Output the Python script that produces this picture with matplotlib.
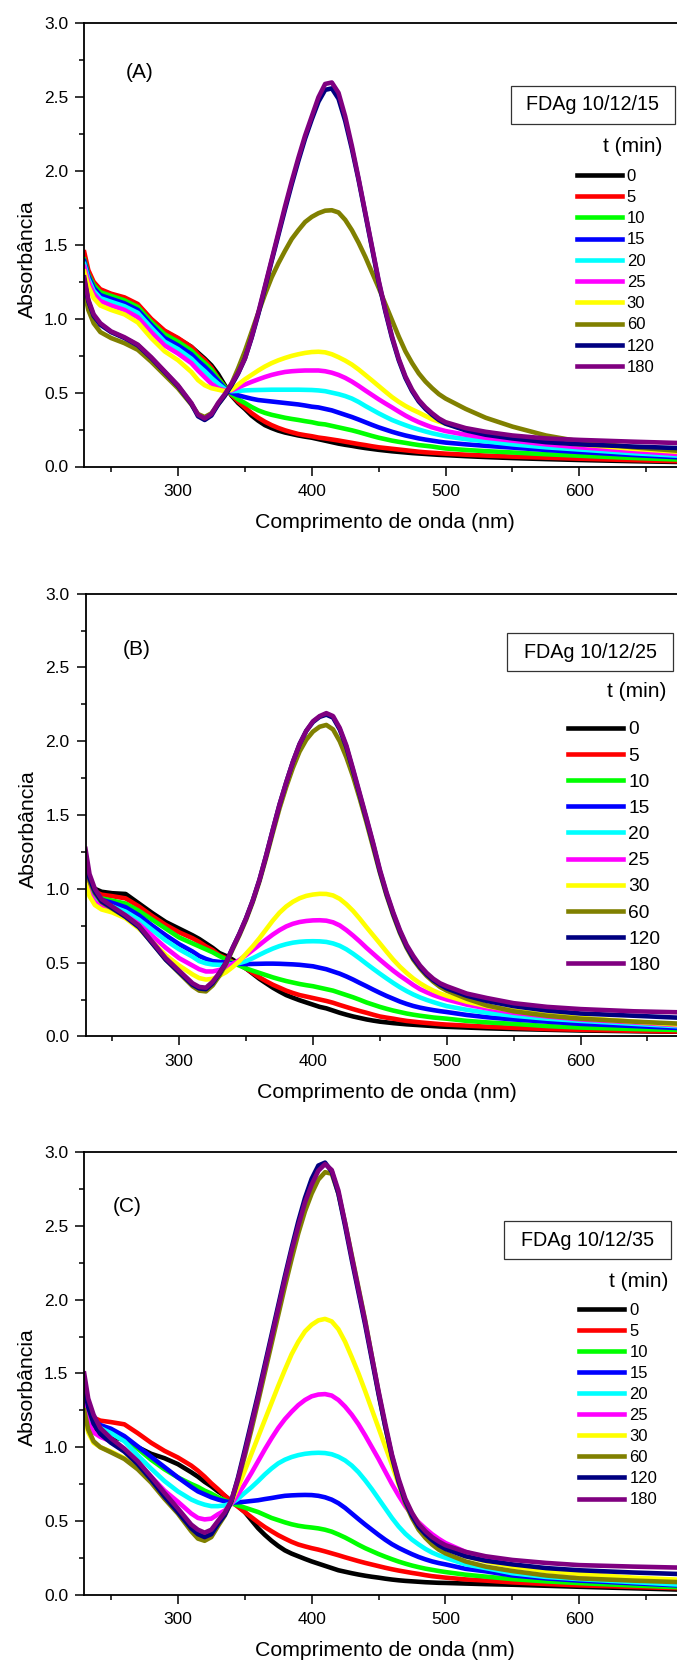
import matplotlib
matplotlib.use('Agg')  # no display
import matplotlib.pyplot as plt
from matplotlib.ticker import MultipleLocator, FormatStrFormatter
from matplotlib.patches import Rectangle

plt.rcParams['font.family'] = ['Liberation Sans', 'DejaVu Sans']

# wavelength grid (nm) shared by all spectra
wavelength = [230, 233, 237, 242, 250, 260, 270, 280, 290, 300, 310, 315, 320, 325, 330,
              335, 340, 345, 350, 355, 360, 365, 370, 375, 380, 385, 390, 395, 400, 405, 410,
              415, 420, 425, 430, 435, 440, 445, 450, 455, 460, 465, 470, 475, 480, 485, 490,
              495, 500,
              515, 530, 550, 575, 600, 640, 690]

times = ['0', '5', '10', '15', '20', '25', '30', '60', '120', '180']
colors = ['#000000', '#ff0000', '#00ff00', '#0000ff', '#00ffff',
          '#ff00ff', '#ffff00', '#808000', '#000080', '#800080']

# (A) FDAg 10/12/15
A_t0 = [1.38, 1.28, 1.22, 1.18, 1.16, 1.135, 1.09, 0.995, 0.915, 0.865, 0.81, 0.77, 0.73, 0.685, 0.625,
        0.55, 0.48, 0.43, 0.39, 0.345, 0.31, 0.28, 0.26, 0.243, 0.23, 0.22, 0.21, 0.202, 0.195, 0.185, 0.175,
        0.165, 0.155, 0.147, 0.14, 0.132, 0.125, 0.119, 0.113, 0.108, 0.103, 0.099, 0.095, 0.091, 0.088, 0.085,
        0.082, 0.079, 0.077,
        0.07, 0.064, 0.057, 0.05, 0.044, 0.036, 0.028]
A_t5 = [1.45, 1.33, 1.25, 1.20, 1.17, 1.145, 1.10, 1.00, 0.92, 0.87, 0.81, 0.76, 0.72, 0.67, 0.60,
        0.54, 0.485, 0.44, 0.40, 0.362, 0.33, 0.303, 0.28, 0.261, 0.245, 0.232, 0.22, 0.212, 0.205, 0.196, 0.19,
        0.183, 0.176, 0.168, 0.16, 0.152, 0.145, 0.137, 0.13, 0.125, 0.12, 0.115, 0.11, 0.105, 0.10, 0.096,
        0.093, 0.09, 0.087,
        0.08, 0.074, 0.067, 0.06, 0.053, 0.043, 0.032]
A_t10 = [1.40, 1.30, 1.23, 1.18, 1.155, 1.125, 1.08, 0.98, 0.895, 0.845, 0.785, 0.74, 0.70, 0.655, 0.595,
         0.54, 0.49, 0.455, 0.43, 0.403, 0.38, 0.363, 0.35, 0.34, 0.33, 0.322, 0.315, 0.307, 0.30, 0.29, 0.285,
         0.275, 0.265, 0.255, 0.245, 0.233, 0.22, 0.207, 0.195, 0.185, 0.175, 0.167, 0.16, 0.152, 0.145, 0.14,
         0.135, 0.128, 0.122,
         0.112, 0.104, 0.095, 0.083, 0.073, 0.058, 0.042]
A_t15 = [1.39, 1.29, 1.21, 1.16, 1.135, 1.105, 1.06, 0.96, 0.87, 0.82, 0.76, 0.715, 0.675, 0.63, 0.58,
         0.53, 0.50, 0.482, 0.47, 0.459, 0.45, 0.445, 0.44, 0.435, 0.43, 0.425, 0.42, 0.413, 0.405, 0.40, 0.39,
         0.38, 0.365, 0.35, 0.335, 0.318, 0.30, 0.282, 0.265, 0.25, 0.235, 0.222, 0.21, 0.2, 0.19, 0.182,
         0.175, 0.168, 0.162,
         0.15, 0.14, 0.128, 0.112, 0.098, 0.078, 0.055]
A_t20 = [1.37, 1.27, 1.19, 1.14, 1.115, 1.085, 1.04, 0.94, 0.845, 0.795, 0.73, 0.685, 0.645, 0.60, 0.56,
         0.525, 0.51, 0.512, 0.515, 0.517, 0.518, 0.519, 0.52, 0.52, 0.52, 0.52, 0.52, 0.519, 0.518, 0.515, 0.51,
         0.50, 0.49, 0.477, 0.46, 0.437, 0.41, 0.385, 0.36, 0.337, 0.315, 0.297, 0.28, 0.264, 0.25, 0.237,
         0.225, 0.215, 0.205,
         0.185, 0.17, 0.15, 0.13, 0.115, 0.09, 0.065]
A_t25 = [1.35, 1.25, 1.17, 1.12, 1.09, 1.06, 1.01, 0.91, 0.82, 0.765, 0.70, 0.65, 0.605, 0.56, 0.53,
         0.515, 0.515, 0.535, 0.555, 0.573, 0.59, 0.606, 0.62, 0.631, 0.64, 0.645, 0.648, 0.65, 0.65, 0.65, 0.645,
         0.635, 0.62, 0.60, 0.575, 0.546, 0.515, 0.485, 0.455, 0.427, 0.40, 0.372, 0.345, 0.321, 0.30, 0.282,
         0.265, 0.252, 0.24,
         0.215, 0.195, 0.175, 0.15, 0.13, 0.105, 0.075]
A_t30 = [1.32, 1.22, 1.14, 1.09, 1.06, 1.03, 0.975, 0.87, 0.78, 0.72, 0.64, 0.585, 0.55, 0.53, 0.52,
         0.51, 0.52, 0.555, 0.59, 0.62, 0.65, 0.677, 0.70, 0.719, 0.735, 0.749, 0.76, 0.769, 0.775, 0.777, 0.773,
         0.76, 0.74, 0.717, 0.69, 0.657, 0.62, 0.583, 0.545, 0.507, 0.47, 0.438, 0.41, 0.386, 0.365, 0.342,
         0.32, 0.304, 0.29,
         0.25, 0.22, 0.195, 0.17, 0.15, 0.12, 0.09]
A_t60 = [1.19, 1.06, 0.97, 0.91, 0.87, 0.835, 0.79, 0.71, 0.62, 0.53, 0.42, 0.355, 0.335, 0.36, 0.42,
         0.48, 0.56, 0.665, 0.78, 0.91, 1.04, 1.165, 1.28, 1.375, 1.46, 1.54, 1.60, 1.655, 1.69, 1.715, 1.732,
         1.735, 1.72, 1.67, 1.60, 1.515, 1.42, 1.315, 1.21, 1.10, 0.99, 0.88, 0.78, 0.70, 0.63, 0.575,
         0.53, 0.49, 0.46,
         0.39, 0.33, 0.27, 0.21, 0.17, 0.13, 0.095]
A_t120 = [1.26, 1.12, 1.02, 0.96, 0.91, 0.87, 0.82, 0.735, 0.64, 0.545, 0.425, 0.34, 0.315, 0.345, 0.42,
          0.48, 0.55, 0.63, 0.73, 0.87, 1.03, 1.21, 1.39, 1.565, 1.74, 1.91, 2.07, 2.22, 2.35, 2.47, 2.55,
          2.56, 2.49, 2.34, 2.15, 1.94, 1.71, 1.48, 1.25, 1.05, 0.87, 0.72, 0.60, 0.51, 0.44, 0.39,
          0.35, 0.315, 0.29,
          0.245, 0.215, 0.19, 0.165, 0.15, 0.135, 0.12]
A_t180 = [1.28, 1.13, 1.03, 0.97, 0.915, 0.875, 0.825, 0.74, 0.645, 0.55, 0.43, 0.35, 0.325, 0.355, 0.43,
          0.49, 0.56, 0.635, 0.73, 0.875, 1.04, 1.22, 1.40, 1.58, 1.76, 1.93, 2.09, 2.24, 2.37, 2.50, 2.59,
          2.60, 2.53, 2.37, 2.17, 1.95, 1.72, 1.49, 1.26, 1.06, 0.88, 0.73, 0.61, 0.52, 0.45, 0.40,
          0.36, 0.325, 0.30,
          0.26, 0.235, 0.21, 0.19, 0.18, 0.168, 0.155]

# (B) FDAg 10/12/25
B_t0 = [1.15, 1.05, 1.00, 0.98, 0.97, 0.965, 0.90, 0.835, 0.775, 0.73, 0.685, 0.66, 0.63, 0.60, 0.565,
        0.545, 0.52, 0.49, 0.46, 0.425, 0.39, 0.36, 0.33, 0.304, 0.28, 0.262, 0.245, 0.23, 0.215, 0.20, 0.19,
        0.175, 0.16, 0.147, 0.135, 0.125, 0.115, 0.107, 0.10, 0.095, 0.09, 0.086, 0.082, 0.079, 0.076, 0.073,
        0.07, 0.067, 0.065,
        0.06, 0.055, 0.05, 0.045, 0.04, 0.035, 0.03]
B_t5 = [1.13, 1.03, 0.98, 0.96, 0.95, 0.935, 0.88, 0.815, 0.755, 0.705, 0.665, 0.64, 0.61, 0.585, 0.55,
        0.53, 0.505, 0.485, 0.46, 0.43, 0.40, 0.374, 0.35, 0.33, 0.31, 0.294, 0.28, 0.27, 0.26, 0.25, 0.24,
        0.228, 0.213, 0.199, 0.185, 0.172, 0.16, 0.147, 0.135, 0.127, 0.12, 0.112, 0.105, 0.10, 0.095, 0.091,
        0.087, 0.083, 0.08,
        0.073, 0.066, 0.058, 0.05, 0.045, 0.038, 0.03]
B_t10 = [1.10, 1.01, 0.96, 0.935, 0.92, 0.90, 0.85, 0.79, 0.73, 0.67, 0.63, 0.61, 0.59, 0.57, 0.545,
         0.522, 0.50, 0.48, 0.46, 0.445, 0.43, 0.415, 0.40, 0.387, 0.375, 0.365, 0.355, 0.347, 0.34, 0.33, 0.32,
         0.31, 0.295, 0.28, 0.265, 0.248, 0.23, 0.215, 0.20, 0.187, 0.175, 0.165, 0.155, 0.147, 0.14, 0.134,
         0.128, 0.124, 0.12,
         0.105, 0.095, 0.085, 0.07, 0.06, 0.05, 0.04]
B_t15 = [1.08, 1.00, 0.95, 0.925, 0.905, 0.875, 0.82, 0.75, 0.685, 0.625, 0.575, 0.545, 0.525, 0.51, 0.505,
         0.50, 0.495, 0.492, 0.49, 0.491, 0.492, 0.493, 0.493, 0.492, 0.49, 0.488, 0.485, 0.48, 0.475, 0.465, 0.455,
         0.44, 0.425, 0.406, 0.385, 0.362, 0.34, 0.317, 0.295, 0.274, 0.255, 0.236, 0.22, 0.206, 0.195, 0.186,
         0.178, 0.171, 0.165,
         0.145, 0.13, 0.115, 0.10, 0.085, 0.07, 0.05]
B_t20 = [1.07, 0.99, 0.93, 0.90, 0.88, 0.845, 0.79, 0.72, 0.65, 0.59, 0.54, 0.51, 0.495, 0.487, 0.485,
         0.485, 0.49, 0.497, 0.51, 0.53, 0.553, 0.575, 0.595, 0.612, 0.625, 0.635, 0.641, 0.644, 0.645, 0.644, 0.64,
         0.63, 0.614, 0.59, 0.56, 0.527, 0.492, 0.458, 0.425, 0.393, 0.362, 0.333, 0.307, 0.284, 0.264, 0.247,
         0.232, 0.218, 0.205,
         0.18, 0.16, 0.14, 0.12, 0.105, 0.085, 0.06]
B_t25 = [1.06, 0.97, 0.91, 0.88, 0.86, 0.82, 0.76, 0.68, 0.60, 0.53, 0.48, 0.455, 0.44, 0.44, 0.45,
         0.465, 0.49, 0.518, 0.55, 0.585, 0.62, 0.656, 0.69, 0.72, 0.745, 0.763, 0.775, 0.782, 0.786, 0.787, 0.784,
         0.773, 0.752, 0.72, 0.683, 0.643, 0.60, 0.56, 0.52, 0.482, 0.445, 0.411, 0.38, 0.348, 0.32, 0.299,
         0.28, 0.264, 0.25,
         0.215, 0.19, 0.16, 0.135, 0.115, 0.095, 0.065]
B_t30 = [1.04, 0.95, 0.89, 0.86, 0.84, 0.80, 0.73, 0.64, 0.55, 0.48, 0.42, 0.395, 0.385, 0.39, 0.41,
         0.435, 0.47, 0.51, 0.56, 0.61, 0.665, 0.725, 0.785, 0.838, 0.88, 0.912, 0.936, 0.952, 0.961, 0.966, 0.965,
         0.955, 0.932, 0.895, 0.85, 0.797, 0.74, 0.685, 0.63, 0.574, 0.52, 0.472, 0.43, 0.392, 0.36, 0.333,
         0.31, 0.291, 0.275,
         0.235, 0.205, 0.175, 0.145, 0.125, 0.10, 0.07]
B_t60 = [1.20, 1.05, 0.97, 0.91, 0.865, 0.81, 0.74, 0.63, 0.52, 0.43, 0.34, 0.31, 0.305, 0.345, 0.41,
         0.49, 0.59, 0.685, 0.79, 0.91, 1.05, 1.21, 1.38, 1.545, 1.69, 1.82, 1.93, 2.01, 2.065, 2.098, 2.11,
         2.08, 2.00, 1.89, 1.76, 1.61, 1.45, 1.28, 1.11, 0.955, 0.82, 0.70, 0.60, 0.52, 0.46, 0.41,
         0.37, 0.335, 0.31,
         0.255, 0.21, 0.17, 0.14, 0.12, 0.10, 0.08]
B_t120 = [1.22, 1.07, 0.98, 0.915, 0.87, 0.81, 0.74, 0.63, 0.52, 0.435, 0.35, 0.325, 0.32, 0.36, 0.425,
          0.50, 0.60, 0.695, 0.80, 0.92, 1.06, 1.225, 1.40, 1.57, 1.72, 1.86, 1.98, 2.07, 2.13, 2.165, 2.18,
          2.16, 2.08, 1.96, 1.80, 1.635, 1.47, 1.30, 1.12, 0.965, 0.83, 0.71, 0.61, 0.53, 0.47, 0.42,
          0.38, 0.35, 0.325,
          0.275, 0.24, 0.205, 0.175, 0.155, 0.14, 0.12]
B_t180 = [1.27, 1.10, 1.00, 0.93, 0.88, 0.82, 0.75, 0.64, 0.53, 0.445, 0.36, 0.335, 0.33, 0.37, 0.43,
          0.50, 0.60, 0.695, 0.80, 0.92, 1.06, 1.225, 1.40, 1.57, 1.72, 1.86, 1.98, 2.07, 2.135, 2.17, 2.19,
          2.17, 2.09, 1.97, 1.81, 1.645, 1.48, 1.31, 1.13, 0.975, 0.84, 0.72, 0.62, 0.545, 0.48, 0.43,
          0.39, 0.36, 0.34,
          0.29, 0.26, 0.225, 0.20, 0.185, 0.17, 0.16]

# (C) FDAg 10/12/35
C_t0 = [1.30, 1.17, 1.11, 1.09, 1.07, 1.05, 1.00, 0.955, 0.925, 0.885, 0.83, 0.80, 0.765, 0.735, 0.70,
        0.67, 0.635, 0.60, 0.56, 0.505, 0.45, 0.405, 0.365, 0.33, 0.30, 0.278, 0.26, 0.242, 0.225, 0.21, 0.195,
        0.18, 0.165, 0.155, 0.145, 0.136, 0.128, 0.121, 0.115, 0.108, 0.102, 0.097, 0.093, 0.09, 0.087, 0.084,
        0.082, 0.08, 0.079,
        0.075, 0.071, 0.067, 0.06, 0.053, 0.043, 0.03]
C_t5 = [1.38, 1.25, 1.20, 1.18, 1.17, 1.155, 1.095, 1.03, 0.975, 0.93, 0.875, 0.84, 0.80, 0.755, 0.715,
        0.672, 0.63, 0.595, 0.56, 0.525, 0.49, 0.458, 0.43, 0.403, 0.38, 0.358, 0.34, 0.327, 0.315, 0.305, 0.293,
        0.28, 0.267, 0.253, 0.24, 0.227, 0.215, 0.204, 0.193, 0.182, 0.172, 0.163, 0.155, 0.147, 0.14, 0.132,
        0.125, 0.12, 0.115,
        0.103, 0.095, 0.083, 0.072, 0.063, 0.052, 0.04]
C_t10 = [1.35, 1.22, 1.15, 1.12, 1.09, 1.065, 0.99, 0.915, 0.85, 0.795, 0.75, 0.73, 0.705, 0.685, 0.66,
         0.64, 0.62, 0.605, 0.59, 0.575, 0.56, 0.54, 0.52, 0.505, 0.49, 0.477, 0.467, 0.46, 0.455, 0.449, 0.44,
         0.427, 0.408, 0.387, 0.363, 0.338, 0.315, 0.295, 0.275, 0.257, 0.24, 0.224, 0.21, 0.197, 0.186, 0.176,
         0.168, 0.16, 0.153,
         0.135, 0.122, 0.105, 0.09, 0.078, 0.062, 0.045]
C_t15 = [1.40, 1.27, 1.18, 1.15, 1.125, 1.075, 1.005, 0.935, 0.865, 0.795, 0.73, 0.70, 0.68, 0.66, 0.645,
         0.633, 0.625, 0.626, 0.63, 0.635, 0.64, 0.648, 0.655, 0.663, 0.67, 0.673, 0.675, 0.676, 0.675, 0.67, 0.66,
         0.644, 0.62, 0.588, 0.55, 0.512, 0.475, 0.44, 0.405, 0.372, 0.342, 0.317, 0.295, 0.274, 0.255, 0.239,
         0.225, 0.214, 0.205,
         0.175, 0.158, 0.13, 0.11, 0.095, 0.077, 0.055]
C_t20 = [1.35, 1.22, 1.16, 1.13, 1.095, 1.04, 0.945, 0.855, 0.77, 0.70, 0.645, 0.625, 0.61, 0.60, 0.60,
         0.605, 0.62, 0.65, 0.69, 0.728, 0.77, 0.815, 0.855, 0.89, 0.915, 0.933, 0.946, 0.955, 0.96, 0.962, 0.96,
         0.952, 0.935, 0.91, 0.875, 0.83, 0.775, 0.715, 0.65, 0.585, 0.52, 0.462, 0.413, 0.373, 0.34, 0.31,
         0.285, 0.266, 0.25,
         0.205, 0.18, 0.145, 0.12, 0.105, 0.085, 0.06]
C_t25 = [1.30, 1.17, 1.10, 1.07, 1.04, 0.975, 0.895, 0.80, 0.705, 0.63, 0.55, 0.52, 0.51, 0.515, 0.545,
         0.57, 0.615, 0.68, 0.75, 0.825, 0.905, 0.985, 1.06, 1.13, 1.19, 1.24, 1.285, 1.32, 1.345, 1.357, 1.36,
         1.35, 1.32, 1.275, 1.22, 1.155, 1.08, 1.00, 0.92, 0.835, 0.75, 0.672, 0.60, 0.54, 0.49, 0.448,
         0.41, 0.378, 0.35,
         0.29, 0.245, 0.20, 0.165, 0.14, 0.11, 0.08]
C_t30 = [1.22, 1.10, 1.03, 1.00, 0.97, 0.925, 0.86, 0.77, 0.665, 0.565, 0.455, 0.415, 0.40, 0.42, 0.49,
         0.555, 0.63, 0.73, 0.84, 0.955, 1.07, 1.185, 1.30, 1.415, 1.525, 1.63, 1.715, 1.785, 1.83, 1.86, 1.87,
         1.853, 1.80, 1.715, 1.61, 1.50, 1.38, 1.255, 1.13, 1.005, 0.88, 0.75, 0.64, 0.55, 0.48, 0.425,
         0.38, 0.345, 0.32,
         0.26, 0.225, 0.19, 0.16, 0.14, 0.115, 0.095]
C_t60 = [1.25, 1.12, 1.04, 1.00, 0.965, 0.92, 0.85, 0.76, 0.65, 0.55, 0.43, 0.38, 0.365, 0.39, 0.465,
         0.535, 0.63, 0.775, 0.94, 1.12, 1.31, 1.505, 1.70, 1.895, 2.09, 2.275, 2.45, 2.60, 2.72, 2.815, 2.865,
         2.855, 2.72, 2.52, 2.30, 2.08, 1.86, 1.615, 1.37, 1.14, 0.93, 0.76, 0.62, 0.52, 0.44, 0.385,
         0.34, 0.305, 0.28,
         0.225, 0.19, 0.16, 0.13, 0.11, 0.095, 0.08]
C_t120 = [1.42, 1.27, 1.16, 1.09, 1.03, 0.97, 0.885, 0.78, 0.665, 0.56, 0.45, 0.41, 0.39, 0.41, 0.48,
          0.54, 0.635, 0.795, 0.98, 1.17, 1.36, 1.56, 1.76, 1.96, 2.16, 2.35, 2.53, 2.69, 2.82, 2.91, 2.93,
          2.87, 2.72, 2.50, 2.27, 2.05, 1.83, 1.595, 1.36, 1.14, 0.94, 0.77, 0.635, 0.535, 0.46, 0.41,
          0.37, 0.335, 0.31,
          0.26, 0.23, 0.205, 0.18, 0.165, 0.15, 0.135]
C_t180 = [1.50, 1.33, 1.22, 1.13, 1.06, 0.99, 0.905, 0.80, 0.69, 0.585, 0.475, 0.44, 0.42, 0.44, 0.50,
          0.555, 0.64, 0.785, 0.96, 1.15, 1.34, 1.54, 1.74, 1.94, 2.14, 2.33, 2.50, 2.66, 2.78, 2.875, 2.92,
          2.88, 2.74, 2.52, 2.29, 2.07, 1.85, 1.615, 1.38, 1.16, 0.95, 0.785, 0.65, 0.555, 0.48, 0.43,
          0.39, 0.36, 0.335,
          0.29, 0.26, 0.235, 0.215, 0.20, 0.19, 0.18]

W_PX, H_PX = 677, 1666
PX_PER_NM = 1.338

# layout of each panel in pixels: axes left/top/bottom, tag, sample box, "t (min)", legend
panels = [
    dict(curves=[A_t0, A_t5, A_t10, A_t15, A_t20, A_t25, A_t30, A_t60, A_t120, A_t180],
         tag='(A)', sample='FDAg 10/12/15', left=84.3, top=23.4, bottom=466.5,
         tag_xy=(140, 72.5), box=(510.7, 86, 675, 124), tmin_xy=(662, 146),
         leg_xy=(576.7, 271.8), leg_fs=12, leg_len=45, leg_gap=5, leg_step=21.67),
    dict(curves=[B_t0, B_t5, B_t10, B_t15, B_t20, B_t25, B_t30, B_t60, B_t120, B_t180],
         tag='(B)', sample='FDAg 10/12/25', left=85.5, top=593.6, bottom=1036.4,
         tag_xy=(136.5, 649.3), box=(507.3, 633.3, 672.7, 670.7), tmin_xy=(666, 691.7),
         leg_xy=(568.3, 847.5), leg_fs=13.8, leg_len=54.4, leg_gap=5.3, leg_step=26.5),
    dict(curves=[C_t0, C_t5, C_t10, C_t15, C_t20, C_t25, C_t30, C_t60, C_t120, C_t180],
         tag='(C)', sample='FDAg 10/12/35', left=84.2, top=1152.3, bottom=1594.6,
         tag_xy=(127, 1206.5), box=(504, 1221, 670.7, 1259), tmin_xy=(668, 1281.7),
         leg_xy=(579, 1405), leg_fs=12, leg_len=45.3, leg_gap=5, leg_step=21.5),
]

fig = plt.figure(figsize=(W_PX / 100, H_PX / 100), dpi=100)

for p in panels:
    width = (680 - 230) * PX_PER_NM
    height = p['bottom'] - p['top']
    ax = fig.add_axes([p['left'] / W_PX, 1 - p['bottom'] / H_PX, width / W_PX, height / H_PX])

    def frac(x, y):
        return (x - p['left']) / width, (p['bottom'] - y) / height

    for spec, col, t in zip(p['curves'], colors, times):
        ax.plot(wavelength, spec, color=col, lw=3.3, label=t, solid_joinstyle='round')

    ax.set_xlim(230, 680)
    ax.set_ylim(0, 3)
    ax.xaxis.set_major_locator(MultipleLocator(100))
    ax.xaxis.set_minor_locator(MultipleLocator(50))
    ax.yaxis.set_major_locator(MultipleLocator(0.5))
    ax.yaxis.set_minor_locator(MultipleLocator(0.25))
    ax.yaxis.set_major_formatter(FormatStrFormatter('%.1f'))
    ax.tick_params(which='both', direction='out', top=False, right=False, width=1.1, colors='black')
    ax.tick_params(which='major', length=6.5)
    ax.tick_params(which='minor', length=3.6)
    ax.tick_params(axis='x', pad=6, labelsize=12.5)
    ax.tick_params(axis='y', pad=5, labelsize=12.5)
    for s in ax.spines.values():
        s.set_linewidth(1.3)

    ax.set_xlabel('Comprimento de onda (nm)', fontsize=15.3, labelpad=10)
    ax.set_ylabel('Absorbância', fontsize=15.3)
    ax.yaxis.set_label_coords(-0.079, 0.468)

    tx, ty = frac(*p['tag_xy'])
    ax.text(tx, ty, p['tag'], transform=ax.transAxes, ha='center', va='center', fontsize=15)

    bx0, by0 = frac(p['box'][0], p['box'][3])
    bx1, by1 = frac(p['box'][2], p['box'][1])
    ax.add_patch(Rectangle((bx0, by0), bx1 - bx0, by1 - by0, transform=ax.transAxes,
                           fill=False, ec='#333333', lw=0.9, clip_on=False))
    ax.text((bx0 + bx1) / 2, (by0 + by1) / 2, p['sample'], transform=ax.transAxes,
            ha='center', va='center', fontsize=14.2)

    mx, my = frac(*p['tmin_xy'])
    ax.text(mx, my, 't (min)', transform=ax.transAxes, ha='right', va='center', fontsize=15)

    em = p['leg_fs'] * 100 / 72
    lx, ly = frac(*p['leg_xy'])
    ax.legend(loc='center left', bbox_to_anchor=(lx, ly), frameon=False, fontsize=p['leg_fs'],
              handlelength=p['leg_len'] / em, handletextpad=p['leg_gap'] / em,
              labelspacing=(p['leg_step'] - 0.925 * em) / em, borderpad=0, borderaxespad=0)

fig.savefig('out.png', dpi=100)
